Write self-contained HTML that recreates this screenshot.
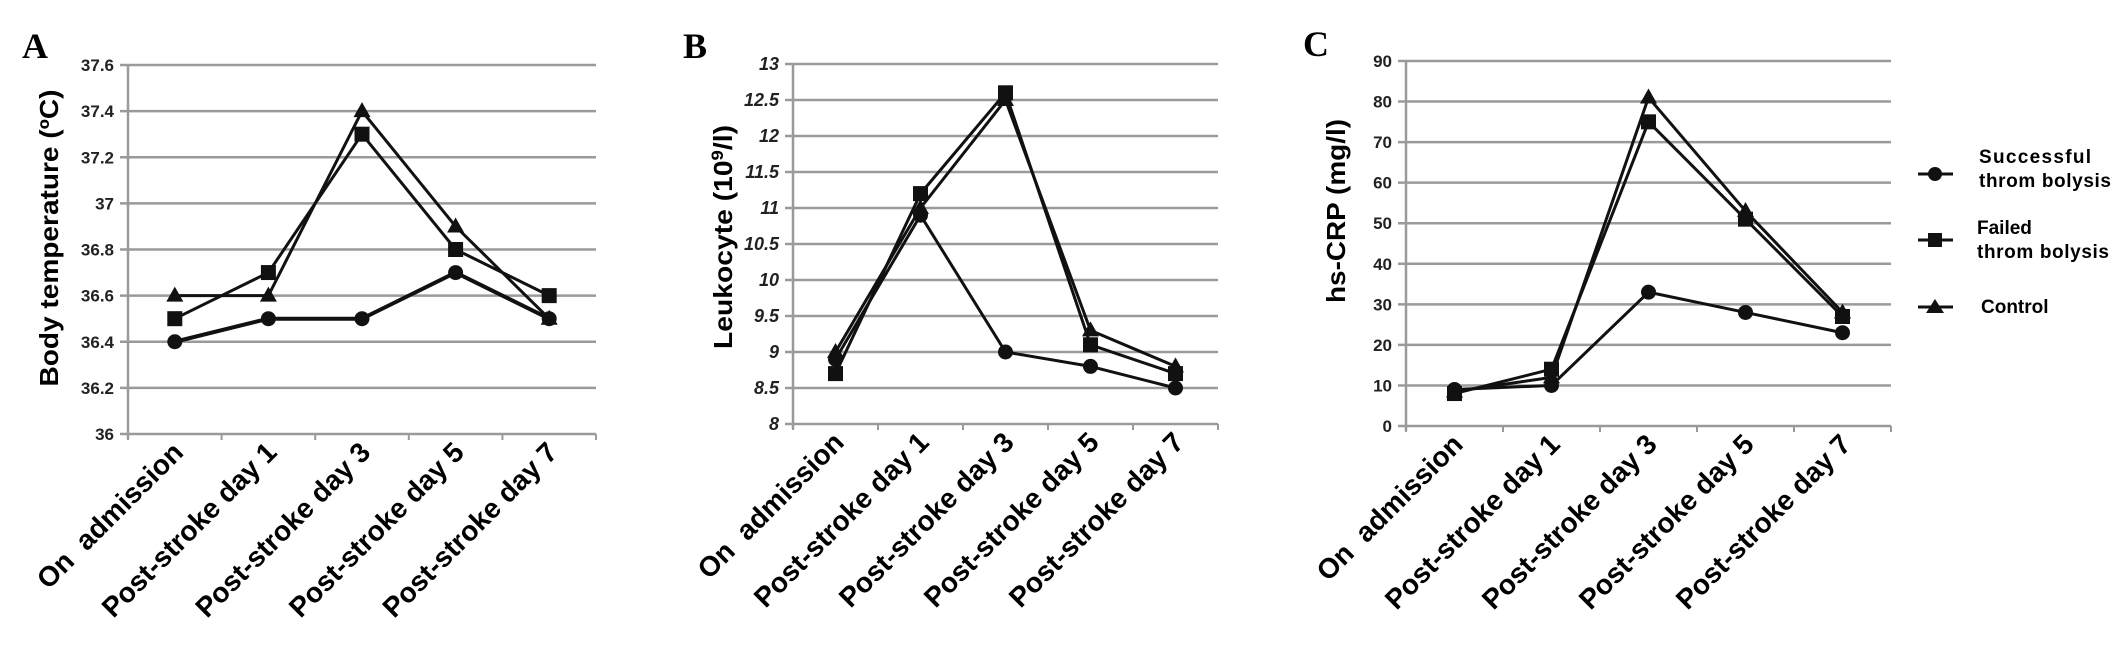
<!DOCTYPE html>
<html><head><meta charset="utf-8"><style>
html,body{margin:0;padding:0;background:#fff;}
svg{display:block;}
</style></head><body>
<svg id="fig" width="2126" height="658" viewBox="0 0 2126 658" xmlns="http://www.w3.org/2000/svg" font-family="Liberation Sans, Arial, sans-serif">
<text x="22" y="58" font-family="Liberation Serif, serif" font-weight="bold" font-size="36">A</text>
<text x="683" y="58" font-family="Liberation Serif, serif" font-weight="bold" font-size="36">B</text>
<text x="1303" y="56" font-family="Liberation Serif, serif" font-weight="bold" font-size="36">C</text>
<g id="legend" font-weight="bold">
 <g>
  <line x1="1918" y1="174" x2="1953" y2="174" stroke="#111" stroke-width="3"/>
  <circle cx="1935" cy="174" r="7" fill="#111"/>
  <text x="1979" y="163" font-size="19" textLength="112">Successful</text>
  <text x="1979" y="187" font-size="19" textLength="132">throm bolysis</text>
 </g>
 <g>
  <line x1="1918" y1="240" x2="1953" y2="240" stroke="#111" stroke-width="3"/>
  <rect x="1928" y="233" width="14" height="14" fill="#111"/>
  <text x="1977" y="234" font-size="19">Failed</text>
  <text x="1977" y="258" font-size="19" textLength="132">throm bolysis</text>
 </g>
 <g>
  <line x1="1918" y1="307" x2="1953" y2="307" stroke="#111" stroke-width="3"/>
  <polygon points="1935,299 1944,313 1926,313" fill="#111"/>
  <text x="1981" y="313" font-size="19">Control</text>
 </g>
</g>
</svg>
<script>
const categories = ["On  admission","Post-stroke day 1","Post-stroke day 3","Post-stroke day 5","Post-stroke day 7"];
const tempSuccessful = [36.4, 36.5, 36.5, 36.7, 36.5];
const tempFailed = [36.5, 36.7, 37.3, 36.8, 36.6];
const tempControl = [36.6, 36.6, 37.4, 36.9, 36.5];
const tempTicks = ["36","36.2","36.4","36.6","36.8","37","37.2","37.4","37.6"];
const leukSuccessful = [8.9, 10.9, 9.0, 8.8, 8.5];
const leukFailed = [8.7, 11.2, 12.6, 9.1, 8.7];
const leukControl = [9.0, 11.0, 12.5, 9.3, 8.8];
const leukTicks = ["8","8.5","9","9.5","10","10.5","11","11.5","12","12.5","13"];
const crpSuccessful = [9, 10, 33, 28, 23];
const crpFailed = [8, 14, 75, 51, 27];
const crpControl = [8.5, 12, 81, 53, 28];
const crpTicks = ["0","10","20","30","40","50","60","70","80","90"];

const NS = "http://www.w3.org/2000/svg";
const svg = document.getElementById('fig');
function mk(tag, attrs, parent){ const e=document.createElementNS(NS,tag); for(const k in attrs) e.setAttribute(k,attrs[k]); parent.appendChild(e); return e; }

function drawPanel(cfg){
  const g = mk('g',{},svg);
  
  
  const ticks = cfg.ticks.map(Number);
  const ymin = ticks[0], ymax = ticks[ticks.length-1];
  const yS = v => cfg.bottom - (v - ymin)/(ymax - ymin)*(cfg.bottom - cfg.top);
  const cw = (cfg.right - cfg.left)/categories.length;
  const xS = i => cfg.left + cw*(i+0.5);
  cfg.ticks.forEach((t,i)=>{
    const y = yS(ticks[i]);
    const gl = mk('line',{x1:cfg.left-8,x2:cfg.right,y1:y,y2:y,stroke:'#9a9a9a','stroke-width':2.5},g);
    
    
    const tl = mk('text',{x:cfg.left-14,y:y+6,'text-anchor':'end','font-size':cfg.tickSize,'font-weight':'bold',fill:'#222','font-style':cfg.italic?'italic':'normal'},g);
    tl.textContent = t;
    
    
  });
  const ax = mk('line',{x1:cfg.left,x2:cfg.left,y1:cfg.top,y2:cfg.bottom+5,stroke:'#9a9a9a','stroke-width':2.5},g);
  
  
  for(let i=0;i<=categories.length;i++){
    const x = cfg.left + cw*i;
    const tk = mk('line',{x1:x,x2:x,y1:cfg.bottom,y2:cfg.bottom+6,stroke:'#9a9a9a','stroke-width':2},g);
    
    
  }
  categories.forEach((c,i)=>{
    const x = xS(i)+10, y = cfg.bottom+20;
    const t = mk('text',{x:x,y:y,'text-anchor':'end','font-size':28,'font-weight':'bold',fill:'#000',transform:`rotate(-45 ${x} ${y})`,style:'white-space:pre'},g);
    t.textContent = c;
    
    
  });
  const yt = mk('text',{x:0,y:0,'text-anchor':'middle','font-size':26,'font-weight':'bold',fill:'#000',transform:`translate(${cfg.titleX} ${cfg.titleY}) rotate(-90)`,textLength:cfg.titleLen,lengthAdjust:'spacingAndGlyphs'},g);
  
  
  if(cfg.sup){
    yt.appendChild(document.createTextNode(cfg.title[0]));
    const s = mk('tspan',{'font-size':17,dy:-9},yt); s.textContent = cfg.sup;
    const r = mk('tspan',{dy:9},yt); r.textContent = cfg.title[1];
  } else yt.textContent = cfg.title;

  const series = [
    {name:'successful', vals:cfg.s, m:'circle', w:cfg.wS||3},
    {name:'failed', vals:cfg.f, m:'square', w:3},
    {name:'control', vals:cfg.c, m:'triangle', w:3}
  ];
  series.forEach(s=>{
    const sg = mk('g',{},g);
    
    
    const pts = s.vals.map((v,i)=>xS(i)+','+yS(v)).join(' ');
    const pl = mk('polyline',{points:pts,fill:'none',stroke:'#111','stroke-width':s.w,'stroke-linejoin':'round'},sg);
    
    
    s.vals.forEach((v,i)=>{
      const x=xS(i), y=yS(v); let e;
      if(s.m==='circle') e = mk('circle',{cx:x,cy:y,r:7.5,fill:'#111'},sg);
      else if(s.m==='square') e = mk('rect',{x:x-7.5,y:y-7.5,width:15,height:15,fill:'#111'},sg);
      else e = mk('polygon',{points:`${x},${y-9} ${x+8.5},${y+6} ${x-8.5},${y+6}`,fill:'#111'},sg);
      
      
    });
  });
}

drawPanel({name:'chart-a-body-temperature',left:128,right:596,top:65,bottom:434,ticks:tempTicks,tickSize:17,
  title:'Body temperature (ºC)',titleX:58,titleY:238,titleLen:297,s:tempSuccessful,f:tempFailed,c:tempControl,wS:4});
drawPanel({name:'chart-b-leukocyte',left:793,right:1218,top:64,bottom:424,ticks:leukTicks,tickSize:18,italic:true,
  title:['Leukocyte (10','/l)'],sup:'9',titleX:732,titleY:237,titleLen:224,s:leukSuccessful,f:leukFailed,c:leukControl});
drawPanel({name:'chart-c-hs-crp',left:1406,right:1891,top:61,bottom:426,ticks:crpTicks,tickSize:17,
  title:'hs-CRP (mg/l)',titleX:1345,titleY:211,titleLen:184,s:crpSuccessful,f:crpFailed,c:crpControl});
</script>
</body></html>
